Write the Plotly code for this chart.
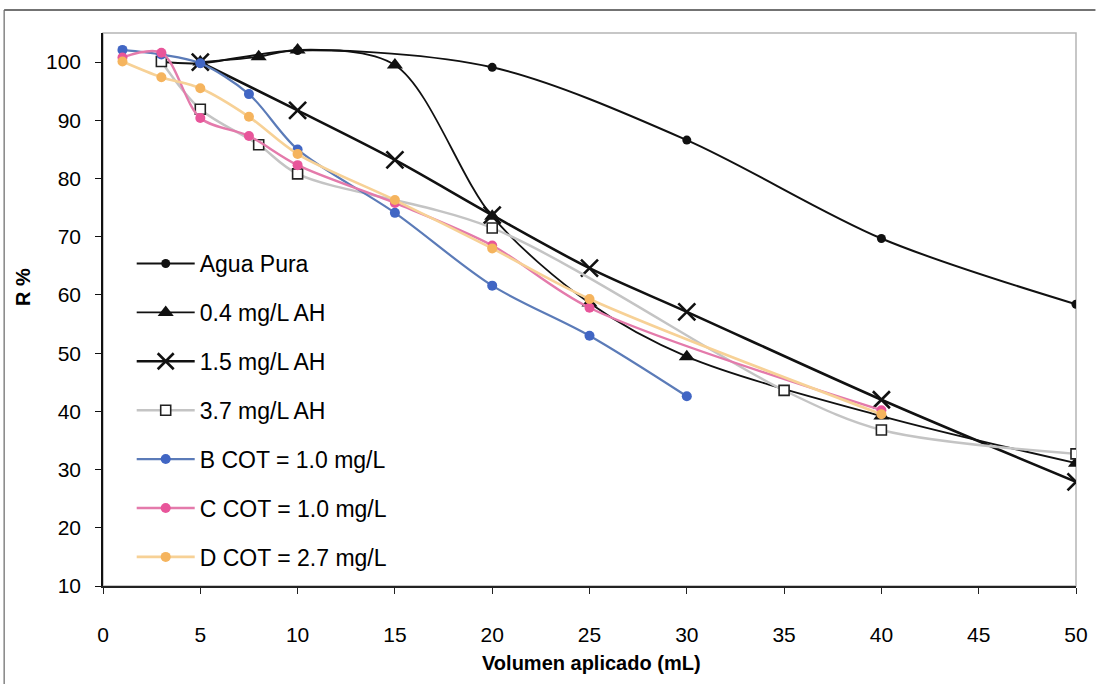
import plotly.graph_objects as go

# Retention (R %) versus applied volume (mL) for each feed water
x_agua = [3, 5, 10, 20, 30, 40, 50]
r_agua = [100.0, 99.8, 102.0, 99.1, 86.6, 69.7, 58.4]

x_ah04 = [5, 8, 10, 15, 20, 25, 30, 40, 50]
r_ah04 = [100.0, 100.9, 102.1, 99.5, 73.5, 58.6, 49.4, 39.2, 31.1]

x_ah15 = [5, 10, 15, 20, 25, 30, 40, 50]
r_ah15 = [100.0, 91.7, 83.2, 73.7, 64.6, 57.1, 42.0, 27.9]

x_ah37 = [3, 5, 8, 10, 20, 35, 40, 50]
r_ah37 = [100.1, 91.9, 85.8, 80.8, 71.5, 43.6, 36.8, 32.7]

x_b = [1, 3, 5, 7.5, 10, 15, 20, 25, 30]
r_b = [102.1, 101.3, 99.8, 94.5, 85.0, 74.1, 61.6, 53.0, 42.6]

x_c = [1, 3, 5, 7.5, 10, 15, 20, 25, 40]
r_c = [100.8, 101.6, 90.4, 87.3, 82.3, 75.8, 68.5, 57.8, 40.2]

x_d = [1, 3, 5, 7.5, 10, 15, 20, 25, 40]
r_d = [100.1, 97.4, 95.5, 90.6, 84.2, 76.3, 68.0, 59.3, 39.5]

x_ticks = [0, 5, 10, 15, 20, 25, 30, 35, 40, 45, 50]
y_ticks = [10, 20, 30, 40, 50, 60, 70, 80, 90, 100]

FONT = "Liberation Sans, Arial, sans-serif"

series = [
    dict(name="Agua Pura", x=x_agua, y=r_agua, line=dict(color="#111111", width=2),
         marker=dict(symbol="circle", size=9, color="#111111")),
    dict(name="0.4 mg/L AH", x=x_ah04, y=r_ah04, line=dict(color="#111111", width=1.8),
         marker=dict(symbol="triangle-up", size=14, color="#111111")),
    dict(name="1.5 mg/L AH", x=x_ah15, y=r_ah15, line=dict(color="#111111", width=2.6),
         marker=dict(symbol="x-thin-open", size=17, color="#111111",
                     line=dict(color="#111111", width=2.6))),
    dict(name="3.7 mg/L AH", x=x_ah37, y=r_ah37, line=dict(color="#c4c4c4", width=2.4),
         marker=dict(symbol="square", size=10, color="white",
                     line=dict(color="#222222", width=1.6))),
    dict(name="B COT = 1.0 mg/L", x=x_b, y=r_b, line=dict(color="#5b7bb8", width=2.2),
         marker=dict(symbol="circle", size=10, color="#4166c4")),
    dict(name="C COT = 1.0 mg/L", x=x_c, y=r_c, line=dict(color="#e47aab", width=2.4),
         marker=dict(symbol="circle", size=10, color="#e8559a")),
    dict(name="D COT = 2.7 mg/L", x=x_d, y=r_d, line=dict(color="#f7d196", width=2.6),
         marker=dict(symbol="circle", size=10, color="#f5b45e")),
]

fig = go.Figure()
for i, s in enumerate(series):
    line = dict(s["line"], shape="spline", smoothing=0.9)
    fig.add_trace(go.Scatter(
        x=s["x"], y=s["y"], name=s["name"], mode="lines+markers",
        line=line, marker=s["marker"], legendgroup=f"g{i}",
    ))

fig.update_layout(
    width=1100, height=684,
    margin=dict(l=103, r=13, t=33, b=98),
    paper_bgcolor="white", plot_bgcolor="white",
    font=dict(family=FONT, color="black"),
    showlegend=True,
    legend=dict(
        x=0.0295, y=0.622, xanchor="left", yanchor="top",
        bgcolor="rgba(0,0,0,0)", font=dict(size=23, family=FONT),
        tracegroupgap=16, itemwidth=58,
    ),
    xaxis=dict(
        range=[0, 50], tickvals=x_ticks, ticktext=[str(v) for v in x_ticks],
        showgrid=False, zeroline=False, showline=True, linecolor="#222222", linewidth=1.5,
        ticks="outside", ticklen=6, tickcolor="#222222", tickwidth=1,
        tickfont=dict(size=21, family=FONT), ticklabelstandoff=23,
    ),
    yaxis=dict(
        range=[10, 105], tickvals=y_ticks, ticktext=[str(v) for v in y_ticks],
        showgrid=False, zeroline=False, showline=True, linecolor="#111111", linewidth=1.5,
        ticks="outside", ticklen=6, tickcolor="#111111", tickwidth=1,
        tickfont=dict(size=21, family=FONT), ticklabelstandoff=10,
    ),
    shapes=[
        # plot-area border (top and right in light grey)
        dict(type="rect", xref="paper", yref="paper", x0=0, y0=0, x1=1, y1=1,
             line=dict(color="#b5b5b5", width=1.5), layer="below"),
        # outer chart frame
        dict(type="line", xref="paper", yref="paper", x0=-0.1016, x1=1.02,
             y0=1.0416, y1=1.0416, line=dict(color="#444444", width=1.5)),
        dict(type="line", xref="paper", yref="paper", x0=-0.1016, x1=-0.1016,
             y0=1.0416, y1=-0.2, line=dict(color="#666666", width=1.2)),
    ],
    annotations=[
        dict(text="<b>Volumen aplicado (mL)</b>", xref="paper", yref="paper",
             x=0.502, y=-0.139, xanchor="center", yanchor="middle",
             showarrow=False, font=dict(size=20, family=FONT)),
        dict(text="<b>R %</b>", xref="paper", yref="paper",
             x=-0.0823, y=0.5407, xanchor="center", yanchor="middle", textangle=-90,
             showarrow=False, font=dict(size=20, family=FONT)),
    ],
)

fig.write_html("out.html")
